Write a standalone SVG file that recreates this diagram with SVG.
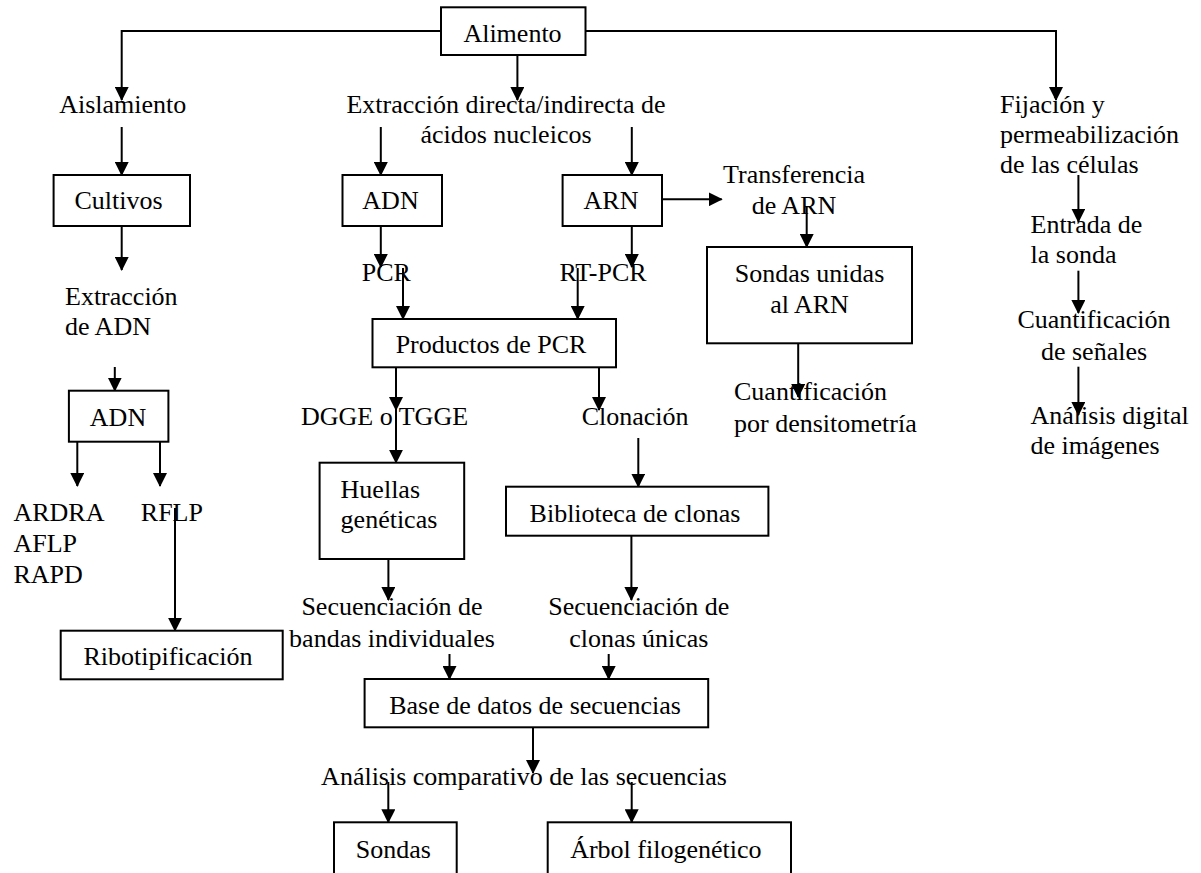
<svg xmlns="http://www.w3.org/2000/svg" width="1201" height="873" viewBox="0 0 1201 873">
<style>
text{font-family:'Liberation Serif','Times New Roman',Times,'DejaVu Serif','Noto Serif',serif;font-size:26px;fill:#000}
.m{text-anchor:middle}
.b{fill:#fff;stroke:#000;stroke-width:2}
.c{fill:none;stroke:#000;stroke-width:2;marker-end:url(#ah)}
</style>
<defs>
<marker id="ah" markerUnits="userSpaceOnUse" markerWidth="14" markerHeight="14" viewBox="0 0 14 14" refX="13" refY="7" orient="auto">
<path d="M0,0 L14,7 L0,14 z" fill="#000"/>
</marker>
</defs>
<rect width="1201" height="873" fill="#fff"/>
<g id="connectors">
<path class="c" d="M441,31 H121.7 V100"/>
<path class="c" d="M585.5,31 H1056 V100"/>
<path class="c" d="M517.4,55 V100"/>
<path class="c" d="M121.7,127 V175"/>
<path class="c" d="M121.7,226 V270"/>
<path class="c" d="M114.8,367 V390.7"/>
<path class="c" d="M77.3,441.7 V486"/>
<path class="c" d="M160,441.7 V486"/>
<path class="c" d="M175,508 V630.7"/>
<path class="c" d="M380.8,127 V175"/>
<path class="c" d="M631.8,127 V175"/>
<path class="c" d="M380.8,226 V267"/>
<path class="c" d="M631.8,226 V267"/>
<path class="c" d="M403,268 V319"/>
<path class="c" d="M577.7,268 V319"/>
<path class="c" d="M662,199.3 H721.7"/>
<path class="c" d="M806.7,207 V247"/>
<path class="c" d="M798.2,343.3 V397"/>
<path class="c" d="M396,367.3 V410"/>
<path class="c" d="M396,410 V462.7"/>
<path class="c" d="M599,367.3 V410"/>
<path class="c" d="M638.3,438 V486.7"/>
<path class="c" d="M388.4,559 V600"/>
<path class="c" d="M631.4,535.7 V600"/>
<path class="c" d="M449.5,654 V679"/>
<path class="c" d="M608.7,654 V679"/>
<path class="c" d="M533,727.3 V773"/>
<path class="c" d="M388.3,782 V822.3"/>
<path class="c" d="M631.7,782 V822.3"/>
<path class="c" d="M1078.4,175 V221.7"/>
<path class="c" d="M1078.4,270.7 V313"/>
<path class="c" d="M1078.4,366.7 V415"/>
</g>
<g id="alimento"><rect class="b" x="441" y="7.3" width="144.5" height="47.7"/><text class="m" x="512.5" y="42">Alimento</text></g>
<g id="aislamiento"><text class="m" x="122.7" y="112.7">Aislamiento</text></g>
<g id="extraccion-directa"><text class="m" x="506" y="113">Extracción directa/indirecta de</text><text class="m" x="506" y="143">ácidos nucleicos</text></g>
<g id="fijacion"><text x="1000" y="113">Fijación y</text><text x="1000" y="143">permeabilización</text><text x="1000" y="173">de las células</text></g>
<g id="cultivos"><rect class="b" x="53.6" y="175" width="136.4" height="51"/><text class="m" x="118.6" y="209">Cultivos</text></g>
<g id="adn-mid"><rect class="b" x="342.5" y="175" width="99.5" height="51"/><text class="m" x="390.5" y="209">ADN</text></g>
<g id="arn"><rect class="b" x="562.6" y="175" width="99.4" height="51"/><text class="m" x="611" y="209">ARN</text></g>
<g id="transferencia"><text class="m" x="794" y="183.3">Transferencia</text><text class="m" x="794" y="214">de ARN</text></g>
<g id="sondas-unidas"><rect class="b" x="707" y="247" width="205" height="96.3"/><text class="m" x="809.5" y="281.7">Sondas unidas</text><text class="m" x="809.5" y="312.7">al ARN</text></g>
<g id="entrada"><text x="1030.5" y="233.3">Entrada de</text><text x="1030.5" y="263.3">la sonda</text></g>
<g id="cuant-senales"><text class="m" x="1094" y="328.3">Cuantificación</text><text class="m" x="1094" y="360">de señales</text></g>
<g id="analisis-digital"><text x="1030.5" y="424">Análisis digital</text><text x="1030.5" y="454">de imágenes</text></g>
<g id="extraccion-adn"><text x="65" y="304.5">Extracción</text><text x="65" y="335">de ADN</text></g>
<g id="pcr"><text x="361.7" y="280.5">PCR</text></g>
<g id="rt-pcr"><text x="559.5" y="280.5">RT-PCR</text></g>
<g id="productos"><rect class="b" x="372.5" y="319" width="243.5" height="48.3"/><text class="m" x="491" y="353.3">Productos de PCR</text></g>
<g id="adn-left"><rect class="b" x="68.9" y="390.7" width="99.5" height="51"/><text class="m" x="118" y="426">ADN</text></g>
<g id="ardra"><text x="13.4" y="521">ARDRA</text><text x="13.4" y="552">AFLP</text><text x="13.4" y="583">RAPD</text></g>
<g id="rflp"><text x="140.8" y="521">RFLP</text></g>
<g id="dgge"><text x="301" y="425">DGGE o TGGE</text></g>
<g id="clonacion"><text x="581.7" y="425">Clonación</text></g>
<g id="cuant-dens"><text x="734" y="400">Cuantificación</text><text x="734" y="431.7">por densitometría</text></g>
<g id="huellas"><rect class="b" x="319.6" y="462.7" width="144.6" height="96.3"/><text x="340.6" y="497.7">Huellas</text><text x="340.6" y="528.3">genéticas</text></g>
<g id="biblioteca"><rect class="b" x="506" y="486.7" width="262.4" height="49"/><text class="m" x="635" y="521.7">Biblioteca de clonas</text></g>
<g id="ribotipificacion"><rect class="b" x="60.7" y="630.7" width="222" height="48.6"/><text class="m" x="168" y="665">Ribotipificación</text></g>
<g id="sec-bandas"><text class="m" x="392" y="615">Secuenciación de</text><text class="m" x="392" y="646.7">bandas individuales</text></g>
<g id="sec-clonas"><text class="m" x="638.8" y="615">Secuenciación de</text><text class="m" x="638.8" y="646.7">clonas únicas</text></g>
<g id="base-datos"><rect class="b" x="364.6" y="679" width="343.6" height="48.3"/><text class="m" x="535" y="714">Base de datos de secuencias</text></g>
<g id="analisis-comp"><text class="m" x="524" y="785">Análisis comparativo de las secuencias</text></g>
<g id="sondas"><rect class="b" x="334" y="822.3" width="122.7" height="60"/><text class="m" x="393.3" y="858.3">Sondas</text></g>
<g id="arbol"><rect class="b" x="547.7" y="822.3" width="243.3" height="60"/><text class="m" x="665.8" y="858.3">Árbol filogenético</text></g>
</svg>
